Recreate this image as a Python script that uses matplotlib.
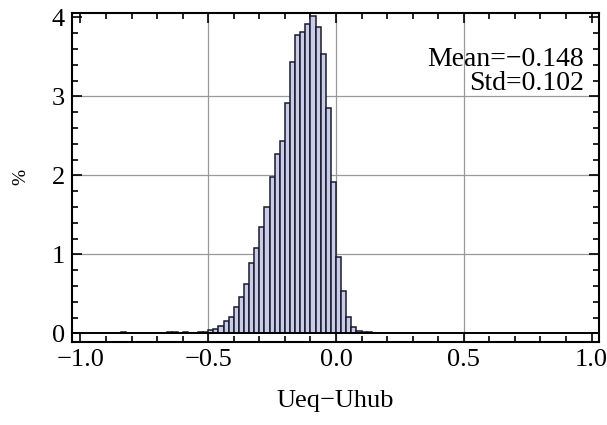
import matplotlib
matplotlib.use("Agg")
import matplotlib.pyplot as plt
from matplotlib.ticker import MultipleLocator

# histogram bins (left edges, width 0.02) and density values
bin_left = [-0.84, -0.66, -0.64, -0.60, -0.56, -0.54, -0.52, -0.50, -0.48, -0.46,
            -0.44, -0.42, -0.40, -0.38, -0.36, -0.34, -0.32, -0.30, -0.28, -0.26,
            -0.24, -0.22, -0.20, -0.18, -0.16, -0.14, -0.12, -0.10, -0.08, -0.06,
            -0.04, -0.02, 0.00, 0.02, 0.04, 0.06, 0.08, 0.10, 0.12, 0.14]
pct = [0.02, 0.015, 0.015, 0.015, 0.01, 0.015, 0.02, 0.04, 0.06, 0.09,
       0.15, 0.21, 0.33, 0.46, 0.63, 0.89, 1.08, 1.35, 1.60, 1.98,
       2.27, 2.44, 2.92, 3.43, 3.78, 3.81, 3.91, 4.02, 3.88, 3.54,
       2.85, 1.91, 0.97, 0.54, 0.21, 0.08, 0.03, 0.015, 0.015, 0.01]
bin_width = 0.02
x_ticks = [-1.0, -0.5, 0.0, 0.5, 1.0]
x_ticklabels = ["\u22121.0", "\u22120.5", "0.0", "0.5", "1.0"]
y_ticks = [0, 1, 2, 3, 4]
stats_text = "Mean=\u22120.148\nStd=0.102"

plt.rcParams['font.family'] = ['Liberation Serif', 'DejaVu Serif']

fig = plt.figure(figsize=(6.07, 4.25), dpi=100)
ax = fig.add_axes([0.1186, 0.196, 0.9868 - 0.1186, 0.970 - 0.196])

# grid lines behind bars
for gx in [-0.5, 0.0, 0.5]:
    ax.axvline(gx, color='#999999', lw=0.9, zorder=0)
for gy in [1, 2, 3]:
    ax.axhline(gy, color='#999999', lw=0.9, zorder=0)

ax.bar(bin_left, pct, width=bin_width, align='edge', color='#c9cce8',
       edgecolor='#1a1a2a', linewidth=1.1, zorder=2)
ax.axhline(0, color='black', lw=1.4, zorder=3)

ax.set_xlim(-1.033, 1.029)
ax.set_ylim(-0.106, 4.058)

ax.set_xticks(x_ticks)
ax.set_xticklabels(x_ticklabels)
ax.set_yticks(y_ticks)
ax.xaxis.set_minor_locator(MultipleLocator(0.1))
ax.yaxis.set_minor_locator(MultipleLocator(0.2))
ax.tick_params(which='both', direction='in', top=True, right=True,
               labelsize=19, width=1.2, colors='black')
ax.tick_params(which='major', length=7, pad=5)
ax.tick_params(which='minor', length=4.5)

for s in ax.spines.values():
    s.set_linewidth(1.5)

ax.set_xlabel("Ueq\u2212Uhub", fontsize=19, labelpad=14)
ax.set_ylabel("%", fontsize=14, labelpad=16)

ax.text(0.972, 0.895, stats_text, transform=ax.transAxes, ha='right', va='top',
        fontsize=20, linespacing=0.95)

fig.savefig("out.png", dpi=100)
